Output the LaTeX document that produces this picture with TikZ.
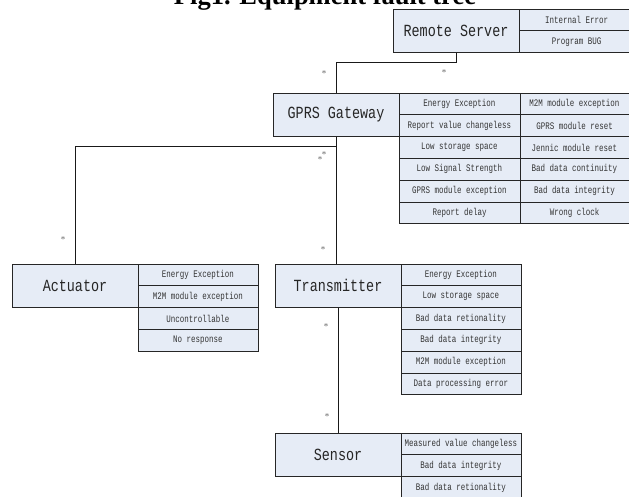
\documentclass[tikz,border=0pt]{standalone}
\usepackage{fontspec}
\setmainfont{Liberation Serif}
\newfontfamily\boxfont[FakeStretch=0.79]{Liberation Mono}
\newfontfamily\faultfont[FakeStretch=0.75]{Liberation Mono}
\usepackage{xcolor}
\usepackage{tikz}
\usetikzlibrary{positioning}
\definecolor{boxfill}{RGB}{230,236,246}
\tikzstyle{device} = [rectangle, minimum width=126pt, minimum height=43.6pt, inner sep=0pt, outer sep=0pt, draw=black!85, line width=0.8pt, fill=boxfill, text=black!85, font=\boxfont\fontsize{17}{17}\selectfont, anchor=north west]
\tikzstyle{fault} = [rectangle, minimum width=120pt, minimum height=21.8pt, inner sep=0pt, outer sep=0pt, draw=black!85, line width=0.8pt, fill=boxfill, text=black!80, font=\faultfont\fontsize{10}{10}\selectfont, anchor=north west]
\tikzstyle{link} = [line width=0.8pt, black!90]
\tikzstyle{mult} = [inner sep=0pt, text=black!60, font=\fontsize{9}{9}\selectfont]

\begin{document}
\begin{tikzpicture}[x=1pt, y=-1pt]
\useasboundingbox (0,0) rectangle (629,496);

\node (title) [anchor=base, font=\bfseries\fontsize{26.5}{26.5}\selectfont] at (325,4) {Fig1. Equipment fault tree};

% devices
\node (server) [device] at (393,9) {Remote Server};
\node (gateway) [device] at (273,93) {GPRS Gateway};
\node (actuator) [device] at (12,264) {Actuator};
\node (transmitter) [device] at (275,264) {Transmitter};
\node (sensor) [device] at (275,433) {Sensor};

% faults
\node (s1) [fault, minimum width=115pt] at (server.north east) {Internal Error};
\node (s2) [fault, minimum width=115pt, below=0pt of s1] {Program BUG};

\foreach \txt [count=\i] in {Energy Exception, Report value changeless, Low storage space, Low Signal Strength, GPRS module exception, Report delay}
  \node (g\i) [fault, minimum width=121pt] at ([yshift={-21.8pt*(\i-1)}]gateway.north east) {\txt};
\foreach \txt [count=\i] in {M2M module exception, GPRS module reset, Jennic module reset, Bad data continuity, Bad data integrity, Wrong clock}
  \node (h\i) [fault, minimum width=109pt] at ([yshift={-21.8pt*(\i-1)}]g1.north east) {\txt};

\foreach \txt [count=\i] in {Energy Exception, M2M module exception, Uncontrollable, No response}
  \node (a\i) [fault] at ([yshift={-21.8pt*(\i-1)}]actuator.north east) {\txt};

\foreach \txt [count=\i] in {Energy Exception, Low storage space, Bad data retionality, Bad data integrity, M2M module exception, Data processing error}
  \node (t\i) [fault] at ([yshift={-21.8pt*(\i-1)}]transmitter.north east) {\txt};

\foreach \txt [count=\i] in {Measured value changeless, Bad data integrity, Bad data retionality}
  \node (n\i) [fault] at ([yshift={-21.8pt*(\i-1)}]sensor.north east) {\txt};

% tree
\draw [link] (server.south) -- ++(0,10) -| (gateway.north);
\draw [link] (gateway.south) -- ++(0,10) -| (actuator.north);
\draw [link] (gateway.south) -- (gateway.south |- transmitter.north);
\draw [link] (transmitter.south) -- (sensor.north);

% multiplicities
\node (m1) [mult] at (324,74) {*};
\node (m2) [mult] at (444,73) {*};
\node (m3) [mult] at (324,155) {*};
\node (m4) [mult] at (320,160) {*};
\node (m5) [mult] at (63,240) {*};
\node (m6) [mult] at (323,250) {*};
\node (m7) [mult] at (326,327) {*};
\node (m8) [mult] at (327,417) {*};

\end{tikzpicture}
\end{document}
